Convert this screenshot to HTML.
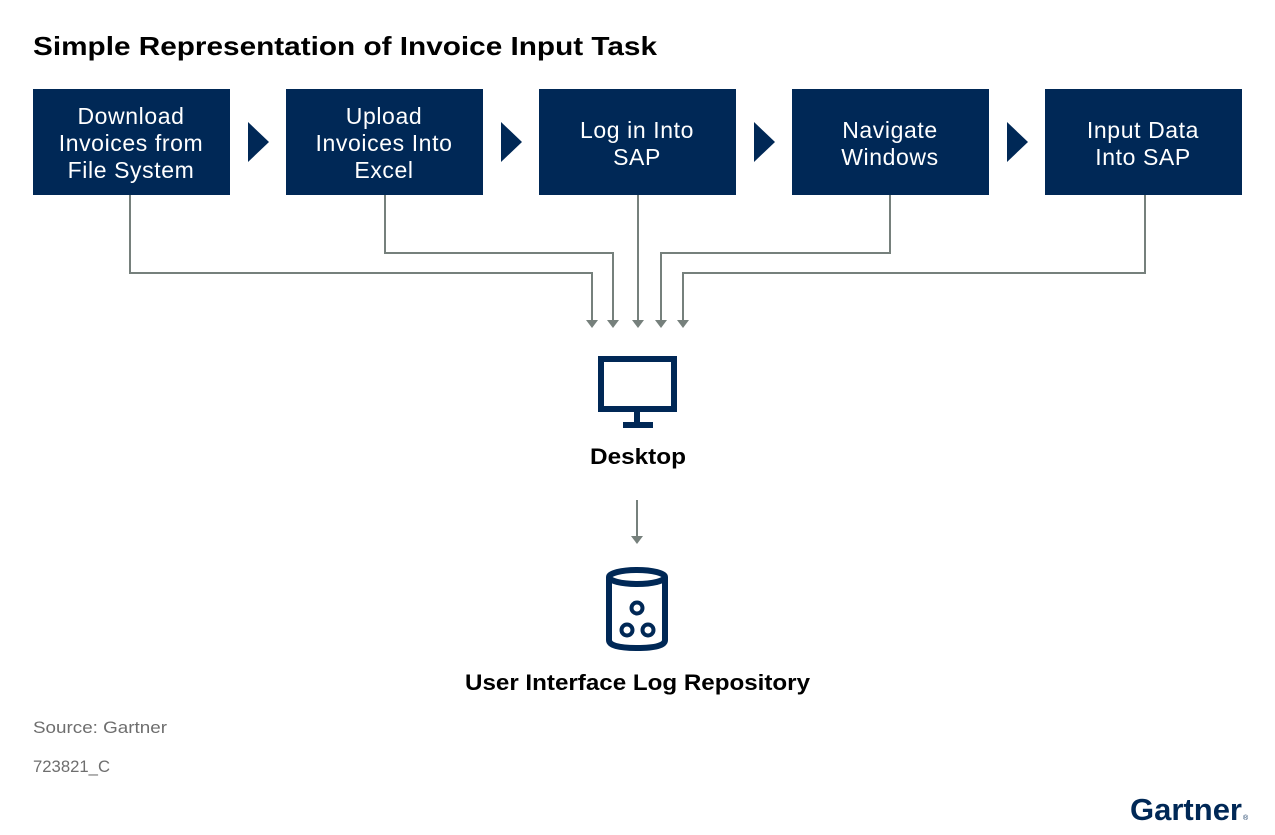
<!DOCTYPE html>
<html><head><meta charset="utf-8"><style>
body{margin:0;background:#fff;}
svg{display:block}
text{font-family:"Liberation Sans",Arial,sans-serif;}
</style></head><body>
<svg width="1275" height="835" viewBox="0 0 1275 835">
<text x="33" y="55" font-size="26" font-weight="bold" fill="#000" textLength="624" lengthAdjust="spacingAndGlyphs">Simple Representation of Invoice Input Task</text>
<g fill="#002856">
<rect x="33" y="89" width="197" height="106"/>
<rect x="286" y="89" width="197" height="106"/>
<rect x="539" y="89" width="197" height="106"/>
<rect x="792" y="89" width="197" height="106"/>
<rect x="1045" y="89" width="197" height="106"/>
<polygon points="248,122 269,142 248,162"/>
<polygon points="501,122 522,142 501,162"/>
<polygon points="754,122 775,142 754,162"/>
<polygon points="1007,122 1028,142 1007,162"/>
</g>
<g fill="#fff" font-size="23" text-anchor="middle" letter-spacing="0.6">
<text x="131" y="124">Download</text><text x="131" y="151">Invoices from</text><text x="131" y="178">File System</text>
<text x="384" y="124">Upload</text><text x="384" y="151">Invoices Into</text><text x="384" y="178">Excel</text>
<text x="637" y="138">Log in Into</text><text x="637" y="165">SAP</text>
<text x="890" y="138">Navigate</text><text x="890" y="165">Windows</text>
<text x="1143" y="138">Input Data</text><text x="1143" y="165">Into SAP</text>
</g>
<g stroke="#76807c" stroke-width="2" fill="none">
<polyline points="130,195 130,273 592,273 592,321"/>
<polyline points="385,195 385,253 613,253 613,321"/>
<polyline points="638,195 638,321"/>
<polyline points="890,195 890,253 661,253 661,321"/>
<polyline points="1145,195 1145,273 683,273 683,321"/>
<line x1="637" y1="500" x2="637" y2="537"/>
</g>
<g fill="#76807c">
<polygon points="586,320 598,320 592,328"/>
<polygon points="607,320 619,320 613,328"/>
<polygon points="632,320 644,320 638,328"/>
<polygon points="655,320 667,320 661,328"/>
<polygon points="677,320 689,320 683,328"/>
<polygon points="631,536 643,536 637,544"/>
</g>
<g stroke="#002856" stroke-width="6" fill="none">
<rect x="601" y="359" width="73" height="50"/>
<line x1="637" y1="412" x2="637" y2="424"/>
<line x1="623" y1="425" x2="653" y2="425"/>
<path d="M609,577 L609,640 Q609,648 637,648 Q665,648 665,640 L665,577"/>
<ellipse cx="637" cy="577" rx="28" ry="7"/>
</g>
<g stroke="#002856" stroke-width="4" fill="none">
<circle cx="637" cy="608" r="5.5"/>
<circle cx="627" cy="630" r="5.5"/>
<circle cx="648" cy="630" r="5.5"/>
</g>
<text x="590" y="464" font-size="22" font-weight="bold" fill="#000" textLength="96" lengthAdjust="spacingAndGlyphs">Desktop</text>
<text x="465" y="690" font-size="22" font-weight="bold" fill="#000" textLength="345" lengthAdjust="spacingAndGlyphs">User Interface Log Repository</text>
<text x="33" y="733" font-size="17" fill="#6e6e6e" textLength="134" lengthAdjust="spacingAndGlyphs">Source: Gartner</text>
<text x="33" y="772" font-size="17" fill="#6e6e6e" textLength="77" lengthAdjust="spacingAndGlyphs">723821_C</text>
<text x="1130" y="820" font-size="31" font-weight="bold" fill="#002856" textLength="112" lengthAdjust="spacingAndGlyphs">Gartner</text>
<text x="1243" y="820" font-size="7" fill="#002856">®</text>
</svg>
</body></html>
